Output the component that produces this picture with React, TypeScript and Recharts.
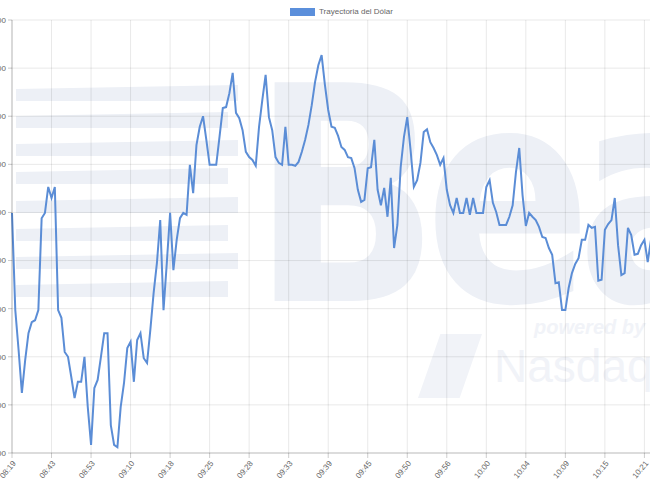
import { LineChart, Line, XAxis, YAxis, CartesianGrid } from "recharts";

// tick labels shown every 12 samples
const horaLabels = [
  "08:19", "08:43", "08:53", "09:10", "09:18", "09:25", "09:28", "09:33", "09:39",
  "09:45", "09:50", "09:56", "10:00", "10:04", "10:09", "10:15", "10:21",
];
const TICK_EVERY = 12;

const yTicks = [3900, 3910, 3920, 3930, 3940, 3950, 3960, 3970, 3980, 3990];

// precio del dólar, one value per sample
const dolar = [
  3949.9, 3929.7, 3921.4, 3912.5, 3919.3, 3924.9, 3927.2, 3927.6, 3929.7, 3948.8,
  3949.9, 3955.3, 3953.0, 3955.3, 3929.7, 3928.1, 3921.0, 3920.0, 3915.8, 3911.4,
  3914.8, 3914.8, 3920.0, 3909.6, 3901.7, 3913.5, 3915.2, 3920.0, 3924.9, 3924.9,
  3905.8, 3901.7, 3901.2, 3909.6, 3914.5, 3921.8, 3923.1, 3914.8, 3923.5, 3924.9,
  3919.7, 3918.7, 3925.6, 3933.3, 3939.5, 3948.4, 3929.7, 3939.5, 3949.9, 3938.0,
  3944.3, 3948.8, 3949.9, 3949.5, 3959.9, 3954.0, 3964.0, 3967.8, 3970.0, 3965.1,
  3959.9, 3959.9, 3959.9, 3965.7, 3971.7, 3971.9, 3974.8, 3979.0, 3970.7, 3969.6,
  3967.1, 3962.6, 3961.5, 3960.9, 3959.7, 3967.8, 3973.4, 3978.6, 3969.8, 3967.1,
  3961.5, 3960.3, 3959.9, 3967.8, 3959.9, 3959.9, 3959.7, 3960.5, 3962.6, 3965.1,
  3968.2, 3972.3, 3977.1, 3980.6, 3982.7, 3976.5, 3971.3, 3967.8, 3967.6, 3965.9,
  3963.6, 3963.0, 3961.5, 3961.3, 3959.2, 3954.7, 3952.2, 3952.6, 3959.2, 3959.4,
  3965.1, 3954.7, 3951.5, 3955.1, 3949.1, 3957.2, 3942.6, 3947.4, 3959.4, 3965.7,
  3969.8, 3963.0, 3955.3, 3956.7, 3960.3, 3966.7, 3967.3, 3964.6, 3963.4, 3961.9,
  3959.9, 3961.3, 3954.7, 3951.5, 3949.9, 3953.0, 3949.9, 3949.9, 3953.0, 3949.5,
  3953.0, 3949.9, 3949.9, 3949.9, 3955.3, 3956.7, 3952.0, 3950.1, 3947.4, 3947.4,
  3947.4, 3949.1, 3951.5, 3958.4, 3963.4, 3953.6, 3947.2, 3949.9, 3949.1, 3948.4,
  3947.0, 3944.9, 3944.7, 3942.6, 3941.2, 3935.3, 3935.5, 3929.7, 3929.7, 3934.3,
  3937.4, 3939.3, 3940.5, 3944.3, 3944.3, 3947.4, 3946.8, 3947.0, 3935.8, 3936.0,
  3946.4, 3947.6, 3948.4, 3953.0, 3943.2, 3937.0, 3937.4, 3946.8, 3945.3, 3941.2,
  3941.4, 3943.2, 3944.3, 3939.7, 3944.3,
];

const data = dolar.map((valor, idx) => ({ idx, valor }));
const xTicks = horaLabels.map((_, i) => i * TICK_EVERY);

const fmtPeso = (v: number) =>
  `${Math.floor(v / 1000)}.${String(v % 1000).padStart(3, "0")},00`;

const WM = "#edf0f6"; // watermark tint
const WM2 = "#f1f3f8";

function Watermark() {
  const bands = [85, 112, 140, 168, 197, 225, 253, 281];
  return (
    <div style={{ position: "absolute", left: 0, top: 0, width: 650, height: 487 }}>
      {bands.map((y, i) => (
        <div
          key={y}
          style={{
            position: "absolute", left: 16, top: y, width: 222 - (i % 2) * 10, height: 16,
            background: WM, clipPath: "polygon(0 25%, 100% 0, 100% 100%, 0 100%)",
          }}
        />
      ))}
      <div
        style={{
          position: "absolute", left: 252, top: 48, fontFamily: "'DejaVu Sans', sans-serif",
          fontWeight: 700, fontSize: 300, lineHeight: 1, color: WM, letterSpacing: -18,
          transform: "scaleX(0.82)", transformOrigin: "left top", whiteSpace: "nowrap",
        }}
      >
        Bea
      </div>
      <div
        style={{
          position: "absolute", left: 534, top: 316, fontFamily: "'Liberation Sans', Arial, sans-serif",
          fontWeight: 700, fontStyle: "italic", fontSize: 20, lineHeight: 1.1, color: WM2, whiteSpace: "nowrap",
        }}
      >
        powered by
      </div>
      <div
        style={{
          position: "absolute", left: 418, top: 334, width: 64, height: 64, background: WM2,
          clipPath: "polygon(35% 0, 100% 0, 65% 100%, 0 100%)",
        }}
      />
      <div
        style={{
          position: "absolute", left: 494, top: 343, fontFamily: "'Liberation Sans', Arial, sans-serif",
          fontSize: 46, lineHeight: 1, color: WM2, whiteSpace: "nowrap",
        }}
      >
        Nasdaq
      </div>
    </div>
  );
}

export default function App() {
  return (
    <div style={{ position: "absolute", left: 0, top: 0, width: 650, height: 487, overflow: "hidden", background: "#fff" }}>
      <Watermark />
      {/* legend */}
      <div
        style={{
          position: "absolute", left: 290, top: 7, display: "flex", alignItems: "center", gap: 4,
          fontFamily: "'Liberation Sans', Arial, sans-serif", fontSize: 8, color: "#666",
        }}
      >
        <span style={{ display: "inline-block", width: 25, height: 8, background: "#5b8fdb" }} />
        <span>Trayectoria del Dólar</span>
      </div>
      <div style={{ position: "absolute", left: -48.3, top: 0 }}>
        <LineChart width={699} height={487} data={data} margin={{ top: 20, right: 0, bottom: 0, left: 0 }}>
          <CartesianGrid stroke="rgba(0,0,0,0.09)" />
          <XAxis
            dataKey="idx"
            type="number"
            domain={[0, 194]}
            ticks={xTicks}
            interval={0}
            height={34}
            tickFormatter={(v: number) => horaLabels[v / TICK_EVERY]}
            angle={-50}
            textAnchor="end"
            tick={{ fontSize: 8, fill: "#666", fontFamily: "'Liberation Sans', Arial, sans-serif" }}
            tickSize={5}
            tickMargin={2}
            stroke="rgba(0,0,0,0.2)"
          />
          <YAxis
            width={60}
            domain={[3900, 3990]}
            ticks={yTicks}
            interval={0}
            tickFormatter={fmtPeso}
            tick={{ fontSize: 8, fill: "#666", fontFamily: "'Liberation Sans', Arial, sans-serif" }}
            tickSize={4}
            tickMargin={2}
            stroke="rgba(0,0,0,0.22)"
          />
          <Line
            type="linear"
            dataKey="valor"
            stroke="#5b8dd6"
            strokeWidth={2}
            dot={false}
            isAnimationActive={false}
          />
        </LineChart>
      </div>
    </div>
  );
}
